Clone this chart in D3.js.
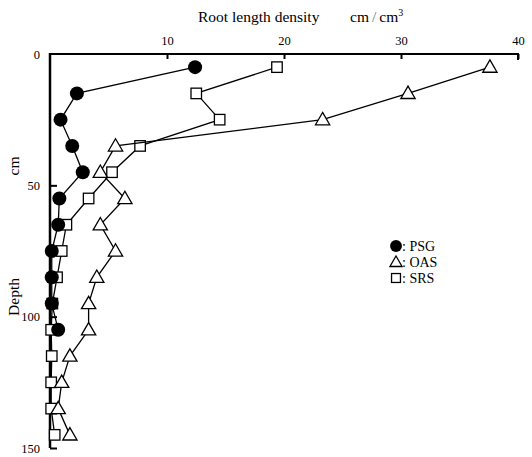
<!DOCTYPE html>
<html>
<head>
<meta charset="utf-8">
<script src="https://cdn.jsdelivr.net/npm/d3@7/dist/d3.min.js"></script>
<style>
  html, body { margin: 0; padding: 0; background: #fff; }
  svg { display: block; }
  text { font-family: "Liberation Serif", "DejaVu Serif", serif; fill: #000; }
</style>
</head>
<body>
<svg id="chart" width="532" height="457"></svg>
<script>
// Root length density (cm/cm3) by soil depth (cm)
const depthPSG = [5, 15, 25, 35, 45, 55, 65, 75, 85, 95, 105];
const valuePSG = [12.4, 2.3, 0.9, 1.9, 2.8, 0.8, 0.7, 0.15, 0.15, 0.15, 0.7];

const depthOAS = [5, 15, 25, 35, 45, 55, 65, 75, 85, 95, 105, 115, 125, 135, 145];
const valueOAS = [37.6, 30.6, 23.3, 5.6, 4.3, 6.4, 4.3, 5.6, 4.0, 3.3, 3.3, 1.7, 1.0, 0.7, 1.7];

const depthSRS = [5, 15, 25, 35, 45, 55, 65, 75, 85, 95, 105, 115, 125, 135, 145];
const valueSRS = [19.4, 12.5, 14.5, 7.7, 5.3, 3.3, 1.4, 1.0, 0.6, 0.2, 0.1, 0.15, 0.1, 0.1, 0.4];

const xTicks = [10, 20, 30, 40];
const yTicks = [0, 50, 100, 150];

const legendItems = [
  { shape: "circle", label: ": PSG" },
  { shape: "triangle", label: ": OAS" },
  { shape: "square", label: ": SRS" }
];

const svg = d3.select("#chart");

const x = d3.scaleLinear().domain([0, 40]).range([50, 518]);
const y = d3.scaleLinear().domain([0, 150]).range([54, 448]);

// top axis (density)
const xAxis = svg.append("g")
  .attr("transform", `translate(0,${y(0)})`)
  .call(d3.axisTop(x).tickValues(xTicks).tickSize(-5).tickPadding(9).tickSizeOuter(0));
xAxis.select(".domain").attr("stroke-width", 2).attr("d", `M${x(0)},0H${x(40) + 1}`);
xAxis.selectAll(".tick line").attr("stroke-width", 2);
xAxis.selectAll(".tick text").attr("font-size", 12.5);
xAxis.append("line").attr("x1", x(40)).attr("x2", x(40)).attr("y1", 0).attr("y2", 6).attr("stroke", "#000").attr("stroke-width", 2);

// left axis (depth)
const yAxis = svg.append("g")
  .attr("transform", `translate(${x(0)},0)`)
  .call(d3.axisLeft(y).tickValues(yTicks).tickSize(-7).tickPadding(10).tickSizeOuter(0));
yAxis.select(".domain").attr("stroke-width", 2.5).attr("d", `M0,${y(0) - 1}V${y(150)}`);
yAxis.selectAll(".tick line").attr("stroke-width", 2);
yAxis.selectAll(".tick text").attr("font-size", 12.5);
yAxis.selectAll(".tick").filter(d => d === 0).select("line").remove();

// titles
svg.append("text").attr("x", 198).attr("y", 22).attr("font-size", 15.5).text("Root length density");
svg.append("text").attr("x", 350).attr("y", 22).attr("font-size", 15.5)
  .html('cm<tspan dx="3" fill="#777">/</tspan><tspan dx="3">cm</tspan><tspan dy="-6" font-size="10">3</tspan>');
svg.append("text").attr("transform", "translate(19,297) rotate(-90)").attr("text-anchor", "middle")
  .attr("font-size", 15.5).text("Depth");
svg.append("text").attr("transform", "translate(19,166) rotate(-90)").attr("text-anchor", "middle")
  .attr("font-size", 15.5).text("cm");

const line = d3.line().x(d => x(d[1])).y(d => y(d[0]));

function drawMarker(g, shape, cx, cy, scale = 1) {
  if (shape === "circle") {
    g.append("circle").attr("cx", cx).attr("cy", cy).attr("r", 7 * scale).attr("fill", "#000");
  } else if (shape === "square") {
    const s = 10.5 * scale;
    g.append("rect").attr("x", cx - s / 2).attr("y", cy - s / 2).attr("width", s).attr("height", s)
      .attr("fill", "#fff").attr("stroke", "#000").attr("stroke-width", 1.3);
  } else {
    const s = d3.symbol().type(d3.symbolTriangle).size(88 * scale * scale)();
    g.append("path").attr("d", s).attr("transform", `translate(${cx},${cy + 1})`)
      .attr("fill", "#fff").attr("stroke", "#000").attr("stroke-width", 1.3);
  }
}

function drawSeries(depths, values, shape) {
  const pts = depths.map((d, i) => [d, values[i]]);
  const g = svg.append("g");
  g.append("path").attr("d", line(pts)).attr("fill", "none").attr("stroke", "#000").attr("stroke-width", 1.3);
  pts.forEach(p => drawMarker(g, shape, x(p[1]), y(p[0])));
}

drawSeries(depthSRS, valueSRS, "square");
drawSeries(depthOAS, valueOAS, "triangle");
drawSeries(depthPSG, valuePSG, "circle");

// legend
const legend = svg.append("g");
legendItems.forEach((item, i) => {
  const ly = 246 + i * 16;
  drawMarker(legend, item.shape, 396, ly, 0.85);
  legend.append("text").attr("x", 402).attr("y", ly + 5).attr("font-size", 14).text(item.label);
});
</script>
</body>
</html>
